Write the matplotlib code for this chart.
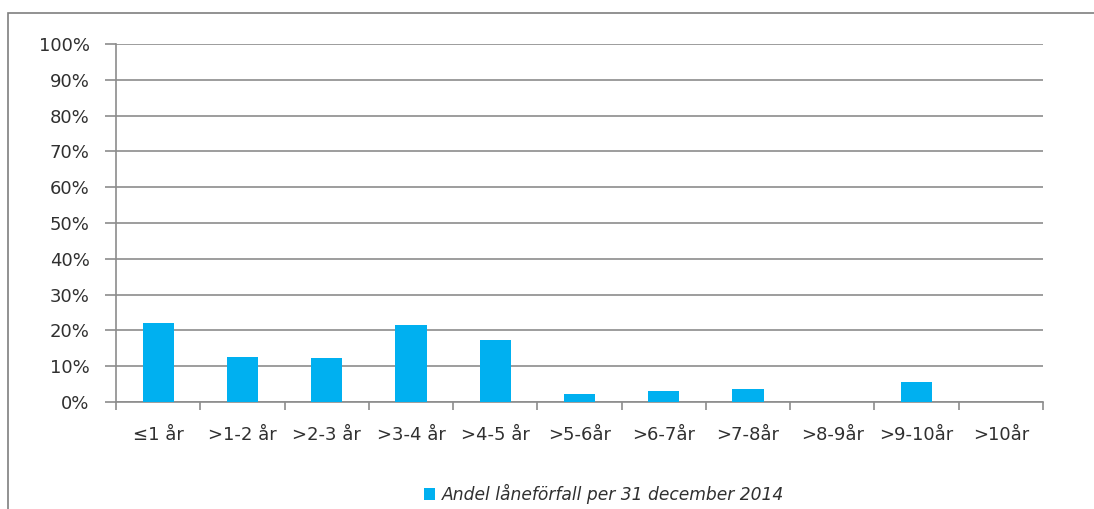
import matplotlib
matplotlib.use("Agg")
import matplotlib.pyplot as plt
from matplotlib.patches import Rectangle
import numpy as np

# categories and share of loan maturities (percent)
categories = ["≤1 år", ">1-2 år", ">2-3 år", ">3-4 år", ">4-5 år", ">5-6år",
              ">6-7år", ">7-8år", ">8-9år", ">9-10år", ">10år"]
shares = [22.1, 12.6, 12.4, 21.4, 17.3, 2.1, 3.2, 3.5, 0.0, 5.5, 0.0]
yticks = list(range(0, 101, 10))
legend_label = "Andel låneförfall per 31 december 2014"

BAR_COLOR = "#00b0f0"
GRID_COLOR = "#8c8c8c"
TEXT_COLOR = "#303030"

fig = plt.figure(figsize=(10.94, 5.09), dpi=100)
fig.patch.set_facecolor("white")

# outer chart frame (only top and left edges visible in the reference)
frame = Rectangle((8 / 1094, -0.1), 1.2, (509 - 13) / 509 + 0.1,
                  transform=fig.transFigure, fill=False,
                  edgecolor="#7f7f7f", linewidth=1.2)
fig.patches.append(frame)

ax = fig.add_axes([116 / 1094, (509 - 402) / 509, (1043 - 116) / 1094, (402 - 44) / 509])

x = np.arange(len(categories))
bars = ax.bar(x, shares, width=0.37, color=BAR_COLOR, zorder=3,
              label=legend_label)

ax.set_xlim(-0.5, len(categories) - 0.5)
ax.set_ylim(0, 100)
ax.set_yticks(yticks)
ax.set_yticklabels([f"{v}%" for v in yticks])
ax.yaxis.grid(True, color=GRID_COLOR, linewidth=1.2, zorder=0)

# category labels centred, tick marks on category boundaries
ax.set_xticks(x)
ax.set_xticklabels(categories)
ax.tick_params(axis="x", which="major", length=0, pad=17)
ax.set_xticks(np.arange(-0.5, len(categories)), minor=True)
ax.tick_params(axis="x", which="minor", length=6, width=1.2, color=GRID_COLOR,
               direction="out")
ax.tick_params(axis="y", length=8, width=1.2, color=GRID_COLOR, pad=11)
ax.tick_params(labelsize=13, labelcolor=TEXT_COLOR)

for side in ["top", "right"]:
    ax.spines[side].set_visible(False)
for side in ["left", "bottom"]:
    ax.spines[side].set_color(GRID_COLOR)
    ax.spines[side].set_linewidth(1.2)

fig.legend(handles=[bars], labels=[legend_label], loc="center",
           bbox_to_anchor=(604 / 1094, (509 - 494) / 509), frameon=False,
           prop={"style": "italic", "size": 12.3}, handlelength=0.65,
           handleheight=0.65, handletextpad=0.4, labelcolor=TEXT_COLOR)

fig.savefig("out.png", dpi=100)
